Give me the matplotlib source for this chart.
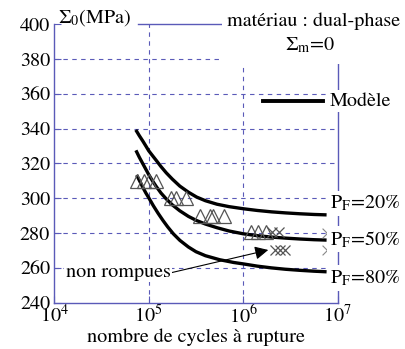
import matplotlib.pyplot as plt
import matplotlib.transforms as mtransforms
from matplotlib.patches import Rectangle
from matplotlib.path import Path
from matplotlib.ticker import NullLocator
import numpy as np

plt.rcParams['font.family'] = ['STIXGeneral', 'DejaVu Serif']
plt.rcParams['mathtext.fontset'] = 'stix'
plt.rcParams['font.size'] = 14.5

# model curves : log10(N) and stress amplitude (MPa)
logN_20 = [4.872, 4.9, 4.936, 4.97, 5.0, 5.04, 5.079, 5.13, 5.186, 5.25, 5.329, 5.42,
           5.507, 5.6, 5.722, 5.85, 6.0, 6.15, 6.3, 6.45, 6.6, 6.75, 6.865]
sig_20 = [338.5, 336.0, 333.0, 330.0, 327.3, 324.5, 321.8, 318.2, 314.6, 311.0, 307.0, 303.5,
          300.7, 298.6, 296.6, 295.2, 294.0, 293.0, 292.2, 291.6, 291.1, 290.7, 290.5]
logN_50 = [4.872, 4.9, 4.936, 4.97, 5.0, 5.04, 5.079, 5.13, 5.186, 5.25, 5.329, 5.42,
           5.507, 5.6, 5.722, 5.85, 6.0, 6.15, 6.3, 6.45, 6.6, 6.75, 6.865]
sig_50 = [326.7, 323.6, 320.0, 316.6, 313.6, 310.0, 306.8, 303.0, 299.6, 296.2, 292.8, 289.6,
          287.2, 285.2, 283.1, 281.2, 279.6, 278.5, 277.7, 277.1, 276.6, 276.2, 276.0]
logN_80 = [4.88, 4.91, 4.94, 4.97, 5.0, 5.05, 5.1, 5.15, 5.2, 5.26, 5.33, 5.42,
           5.5, 5.6, 5.75, 5.9, 6.0, 6.15, 6.3, 6.45, 6.6, 6.75, 6.865]
sig_80 = [312.5, 309.3, 306.0, 303.0, 300.3, 295.6, 291.3, 287.3, 283.6, 279.6, 275.8, 272.0,
          269.3, 267.0, 264.7, 263.1, 262.3, 261.0, 260.0, 259.2, 258.6, 258.1, 257.8]

# tests (broken = triangles, not broken = crosses)
tri_logN = [4.88, 4.95, 5.0, 5.08, 5.24, 5.29, 5.39, 5.54, 5.65, 5.68, 5.80, 6.08, 6.16, 6.24]
tri_sig = [310, 310, 310, 310, 300, 300, 300, 290, 290, 290, 290, 280.5, 280.5, 280.5]
x_logN = [6.31, 6.38, 6.34, 6.39, 6.44]
x_sig = [280.5, 280.5, 270.5, 270.5, 270.5]
runout_logN = [6.87, 6.87]
runout_sig = [280, 270.5]

yticks = [240, 260, 280, 300, 320, 340, 360, 380, 400]
xticks = [1e4, 1e5, 1e6, 1e7]

blue = '#5a5ab8'
grey = '#555555'

fig = plt.figure(figsize=(4.06, 3.49), dpi=100)
ax = fig.add_axes([0.1337, 0.1327, 0.698, 0.7977])
ax.set_xscale('log')
ax.set_xlim(1e4, 1e7)
ax.set_ylim(240, 400)
ax.set_xticks(xticks)
ax.set_yticks(yticks)
ax.xaxis.set_minor_locator(NullLocator())

for y in yticks[1:-1]:
    ax.axhline(y, color=blue, lw=0.8, ls=(0, (4, 4)), zorder=0)
for x in xticks[1:-1]:
    ax.axvline(x, color=blue, lw=0.8, ls=(0, (4, 4)), zorder=0)

for s in ax.spines.values():
    s.set_color(blue)
    s.set_linewidth(1.0)
ax.spines['top'].set_bounds(10**4.886, 10**5.806)
ax.tick_params(direction='in', length=5, color=blue, pad=3)
ax.tick_params(axis='x', pad=1)

ax.plot(10**np.array(logN_20), sig_20, color='k', lw=2.4)
ax.plot(10**np.array(logN_50), sig_50, color='k', lw=2.4)
ax.plot(10**np.array(logN_80), sig_80, color='k', lw=2.4)

ax.plot(10**np.array(tri_logN), tri_sig, ls='none', marker='^', ms=9.5,
        mfc='none', mec=grey, mew=0.9)
ax.plot(10**np.array(x_logN), x_sig, ls='none', marker='x', ms=7.5,
        mec=grey, mew=0.9)
chevron = Path([(-0.6, 1), (0.4, 0), (-0.6, -1)], [Path.MOVETO, Path.LINETO, Path.LINETO])
ax.plot(10**np.array(runout_logN), runout_sig, ls='none', marker=chevron, ms=7,
        mfc='none', mec='#888888', mew=0.8)

# legend
ax.plot([0.736, 0.948], [0.7245, 0.7245], transform=ax.transAxes, color='k',
        lw=2.8, clip_on=False)
ax.text(0.972, 0.7245, 'Modèle', transform=ax.transAxes, va='center', ha='left',
        bbox=dict(fc='white', ec='none', pad=2))

trans = mtransforms.blended_transform_factory(ax.transAxes, ax.transData)
for lab, y in [('20%', 294.2), ('50%', 273.2), ('80%', 251.2)]:
    ax.text(0.972, y, r'P$_{\rm F}$=' + lab, transform=trans, va='baseline',
            ha='left', bbox=dict(fc='white', ec='none', pad=2))

ax.annotate('non rompues', xy=(10**6.265, 270.3), xytext=(10**4.12, 255),
            ha='left', va='baseline', bbox=dict(fc='white', ec='none', pad=1),
            arrowprops=dict(arrowstyle='-|>', color='k', lw=0.8,
                            mutation_scale=20, shrinkA=0, shrinkB=0,
                            relpos=(1.0, 0.45)))

ax.set_xlabel('nombre de cycles à rupture', labelpad=1)

# white area behind the title
fig.add_artist(Rectangle((222 / 406, 1 - 64 / 349), 184 / 406, 64 / 349,
                         transform=fig.transFigure, fc='white', ec='none', zorder=1))
fig.text(58 / 406, 1 - 23 / 349, r'$\Sigma_0$(MPa)', ha='left', va='baseline', zorder=3)
fig.text(314 / 406, 1 - 26 / 349, 'matériau : dual-phase', ha='center',
         va='baseline', zorder=3)
fig.text(310 / 406, 1 - 50 / 349, r'$\Sigma_{\rm m}$=0', ha='center',
         va='baseline', zorder=3)

plt.savefig('out.png', dpi=100)
plt.close()
